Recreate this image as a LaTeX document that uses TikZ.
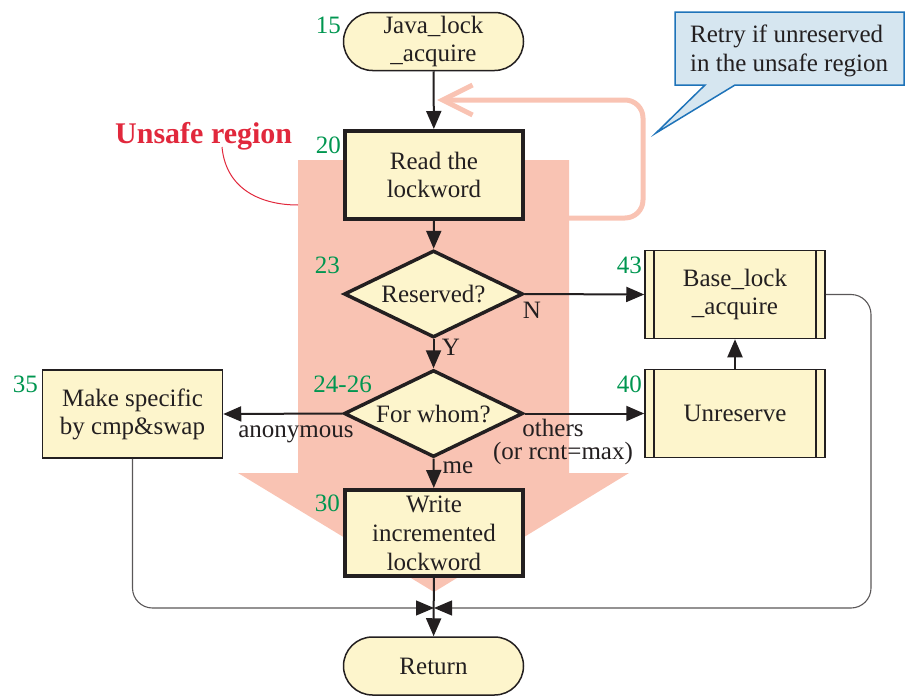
\documentclass[tikz,border=0pt]{standalone}
\usepackage{fontspec}
\setmainfont{Liberation Serif}
\usetikzlibrary{arrows.meta,shapes.geometric,shapes.misc}

\definecolor{boxfill}{RGB}{253,245,204}
\definecolor{unsafe}{RGB}{249,195,179}
\definecolor{stepno}{RGB}{0,150,80}
\definecolor{callfill}{RGB}{214,230,240}
\definecolor{callline}{RGB}{30,115,185}
\definecolor{regionred}{RGB}{225,40,60}
\definecolor{ink}{RGB}{35,31,32}

\begin{document}
\begin{tikzpicture}[x=1pt,y=-1pt,
  every node/.style={font=\fontsize{25}{28}\selectfont, text=ink},
  proc/.style={rectangle, draw=ink, fill=boxfill, line width=1.5pt, inner sep=0pt,
    minimum width=180pt, minimum height=88pt, align=center},
  keyproc/.style={proc, line width=4pt, minimum width=178pt},
  predef/.style={proc, path picture={
    \draw[ink, line width=1.5pt]
      ([xshift=9pt]path picture bounding box.north west) -- ([xshift=9pt]path picture bounding box.south west)
      ([xshift=-9pt]path picture bounding box.north east) -- ([xshift=-9pt]path picture bounding box.south east);}},
  term/.style={rounded rectangle, draw=ink, fill=boxfill, line width=1.5pt, inner sep=0pt,
    minimum width=180pt, minimum height=58pt, align=center},
  decide/.style={diamond, aspect=2.1, draw=ink, fill=boxfill, line width=3.5pt, inner sep=0pt,
    minimum width=179pt, minimum height=87pt},
  flow/.style={draw=ink, line width=2pt, -{Triangle[length=18pt,width=15pt]}},
  mergeline/.style={draw=ink!75, line width=1.1pt, rounded corners=20pt,
    -{Triangle[length=18pt,width=15pt,color=ink]}},
  stepnum/.style={font=\fontsize{25}{28}\selectfont, text=stepno, anchor=base east, inner sep=0pt},
  branch/.style={anchor=base, inner sep=0pt},
]
\useasboundingbox (0,0) rectangle (908,696);

% unsafe region: a wide downward arrow behind the steps
\fill[unsafe] (298,160) -- (569,160) -- (569,473) -- (629,473) -- (434,592)
  -- (238,473) -- (298,473) -- cycle;

% retry loop back to the lockword read
\coordinate (loopstart) at (566,218);
\coordinate (loopend) at (437,100);
\draw[unsafe, line width=5pt, rounded corners=18pt,
  -{Straight Barb[length=30pt,width=30pt]}]
  (loopstart) -- (643,218) -- (643,100) -- (loopend);

% label of the unsafe region
\node[font=\bfseries\fontsize{30}{33}\selectfont, text=regionred, anchor=base west, inner sep=0pt]
  (unsafelbl) at (115,143) {Unsafe region};
\coordinate (curvestart) at (222,147);
\coordinate (unsafeedge) at (298,205);
\draw[regionred, line width=1pt] (curvestart) .. controls (226,190) and (262,205) .. (unsafeedge);

% callout
\draw[callline, fill=callfill, line width=1.5pt]
  (675,12) -- (904,12) -- (904,85) -- (735,85) -- (656,133) -- (705,85) -- (675,85) -- cycle;
\node[anchor=west, align=left, inner sep=0pt, font=\fontsize{25}{29}\selectfont]
  (retry) at (690,51) {Retry if unreserved\\in the unsafe region};

% steps
\node[term] (start) at (433.5,41.5) {Java\_lock\\\_acquire};
\node[keyproc] (read) at (434,175) {Read the\\lockword};
\node[decide] (reserved) at (433.5,294) {Reserved?};
\node[decide] (whom) at (433.5,413.5) {For whom?};
\node[proc] (make) at (132.5,414) {Make specific\\by cmp\&swap};
\node[predef] (base) at (735,294.5) {Base\_lock\\\_acquire};
\node[predef] (unres) at (735,413.5) {Unreserve};
\node[keyproc, minimum height=86pt, font=\fontsize{25}{29}\selectfont] (write) at (434,533)
  {Write\\incremented\\lockword};
\node[term] (ret) at (433.5,666) {Return};

% step numbers
\node[stepnum] (n15) at (341,33) {15};
\node[stepnum] (n20) at (341,153) {20};
\node[stepnum] (n23) at (340,273) {23};
\node[stepnum] (n24) at (372,392) {24-26};
\node[stepnum] (n35) at (38,392) {35};
\node[stepnum] (n43) at (642,273) {43};
\node[stepnum] (n40) at (642,392) {40};
\node[stepnum] (n30) at (340,511) {30};

% branch labels
\node[branch] (lN) at (532,318) {N};
\node[branch] (lY) at (451,355) {Y};
\node[branch] (lanon) at (296,437) {anonymous};
\node[branch] (lothers) at (553,436) {others};
\node[branch] (lrcnt) at (563,459) {(or rcnt=max)};
\node[branch] (lme) at (458,473) {me};

% main flow
\draw[flow] (start) -- (read);
\draw[flow] (read) -- (reserved);
\draw[flow] (reserved) -- (whom);
\draw[flow] (reserved.east) -- (base.west);
\draw[flow] (whom.east) -- (unres.west);
\draw[flow] (whom.west) -- (make.east);
\draw[flow] (unres) -- (base);
\draw[flow] (whom) -- (write);

% paths joining before the return
\coordinate (merge) at (434,608);
\coordinate (rturn) at (871,608);
\draw[mergeline] (make) |- (merge);
\draw[mergeline] (base.east) -| (rturn) -- (merge);
\draw[flow] (write) -- (ret);
\end{tikzpicture}
\end{document}
